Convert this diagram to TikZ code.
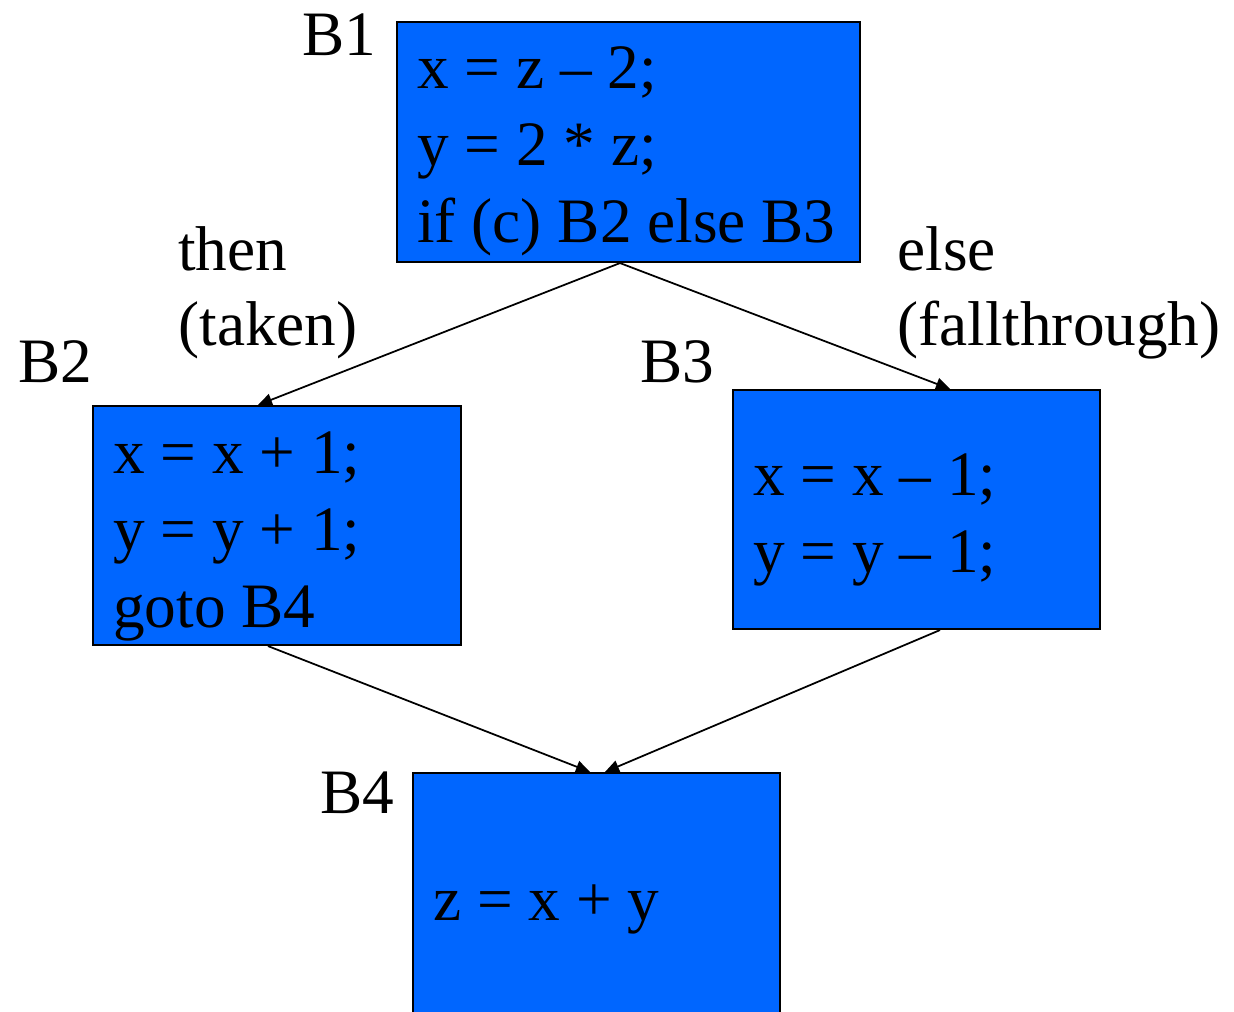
\documentclass[tikz,border=0pt]{standalone}
\usepackage{fontspec}
\setmainfont{Liberation Serif}
\usetikzlibrary{arrows.meta,calc}
\definecolor{blockblue}{HTML}{0066FF}
\begin{document}
\begin{tikzpicture}[
    block/.style={draw=black, fill=blockblue, line width=1.2pt, rectangle, inner sep=0pt},
    code/.style={anchor=base west, inner sep=0pt, font=\fontsize{36}{42}\selectfont},
    flow/.style={-{Triangle[length=8pt,width=7pt]}, line width=1pt}
  ]
    \useasboundingbox (0,0) rectangle (24.68,-20.22);
    \clip (0,0) rectangle (24.68,-20.22);
    % basic blocks
    \node[block, minimum width=9.26cm, minimum height=4.8cm] (b1) at (12.57,-2.84) {};
    \node[block, minimum width=7.36cm, minimum height=4.78cm] (b2) at (5.54,-10.51) {};
    \node[block, minimum width=7.34cm, minimum height=4.78cm] (b3) at (18.33,-10.19) {};
    \node[block, minimum width=7.34cm, minimum height=5.08cm] (b4) at (11.93,-18.0) {};
    % block code
    \node[code] (b1l1) at (8.34,-1.76) {x = z – 2;};
    \node[code] (b1l2) at (8.34,-3.3) {y = 2 * z;};
    \node[code] (b1l3) at (8.34,-4.84) {if (c) B2 else B3};
    \node[code] (b2l1) at (2.26,-9.46) {x = x + 1;};
    \node[code] (b2l2) at (2.26,-11.0) {y = y + 1;};
    \node[code] (b2l3) at (2.26,-12.54) {goto B4};
    \node[code] (b3l1) at (15.06,-9.9) {x = x – 1;};
    \node[code] (b3l2) at (15.06,-11.44) {y = y – 1;};
    \node[code] (b4l1) at (8.66,-18.4) {z = x + y};
    % block names and edge labels
    \node[code] (n1) at (6.04,-1.1) {B1};
    \node[code] (n2) at (0.36,-7.64) {B2};
    \node[code] (n3) at (12.8,-7.64) {B3};
    \node[code] (n4) at (6.4,-16.26) {B4};
    \node[code] (then) at (3.56,-5.4) {then};
    \node[code] (taken) at (3.56,-6.9) {(taken)};
    \node[code] (else) at (17.94,-5.4) {else};
    \node[code] (fall) at (17.94,-6.9) {(fallthrough)};
    % edges
    \draw[flow] ($(b1.south)+(-0.17,0)$) -- ($(b2.north)+(-0.38,0)$);
    \draw[flow] ($(b1.south)+(-0.17,0)$) -- ($(b3.north)+(0.67,0)$);
    \draw[flow] ($(b2.south)+(-0.18,0)$) -- ($(b4.north)+(-0.13,0)$);
    \draw[flow] ($(b3.south)+(0.47,0)$) -- ($(b4.north)+(0.17,0)$);
\end{tikzpicture}
\end{document}
